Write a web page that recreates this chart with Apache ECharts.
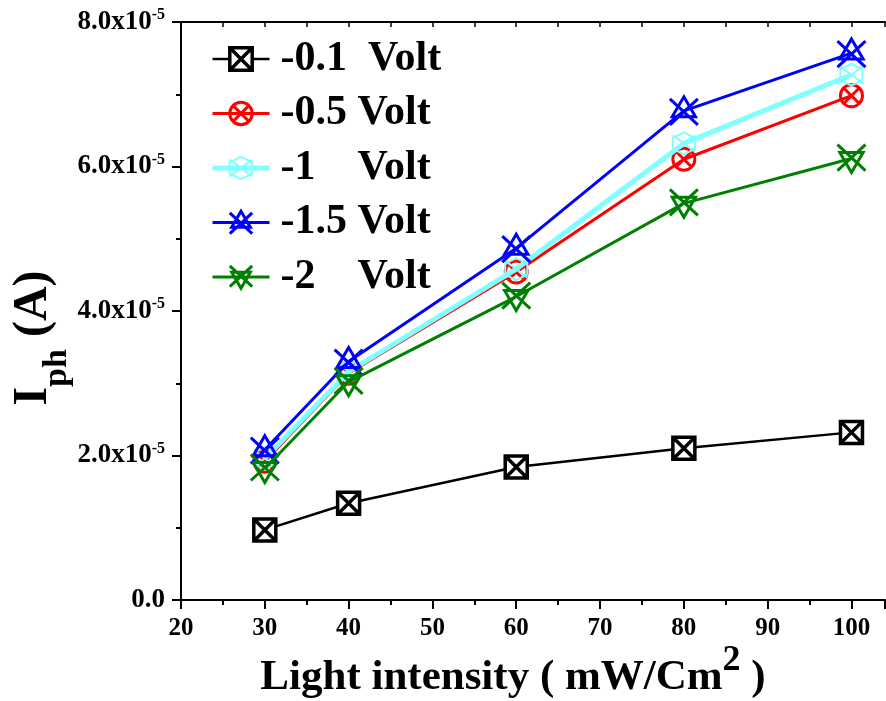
<!DOCTYPE html>
<html><head><meta charset="utf-8">
<script src="https://cdn.jsdelivr.net/npm/echarts@6/dist/echarts.min.js"></script>
<style>html,body{margin:0;padding:0;background:#fff}#c{width:886px;height:701px}</style>
</head><body><div id="c"></div>
<script>
// ---- data ----
const xValues = [30, 40, 60, 80, 100];
const seriesNames = ['-0.1  Volt', '-0.5 Volt', '-1    Volt', '-1.5 Volt', '-2    Volt'];
const iph_01 = [0.97e-5, 1.34e-5, 1.84e-5, 2.10e-5, 2.32e-5];
const iph_05 = [1.92e-5, 3.14e-5, 4.54e-5, 6.10e-5, 6.98e-5];
const iph_1  = [1.96e-5, 3.16e-5, 4.58e-5, 6.32e-5, 7.27e-5];
const iph_15 = [2.08e-5, 3.30e-5, 4.87e-5, 6.77e-5, 7.57e-5];
const iph_2  = [1.82e-5, 3.02e-5, 4.20e-5, 5.49e-5, 6.11e-5];
const xTickLabels = ['20','30','40','50','60','70','80','90','100'];
const yTickLabels = ['0.0','2.0x10{sup|-5}','4.0x10{sup|-5}','6.0x10{sup|-5}','8.0x10{sup|-5}'];

const seriesValues = [iph_01, iph_05, iph_1, iph_15, iph_2];
const colors = ['#000000', '#ff0000', '#80ffff', '#0000ff', '#008000'];
const lineWidths = [2.5, 3, 5, 3, 3];
const symbols = [
  'path://M1,1 L23,1 L23,23 L1,23 Z M1,1 L23,23 M23,1 L1,23',
  'path://M12,1 A11,11 0 1,1 11.99,1 Z M4,4 L20,20 M20,4 L4,20',
  'path://M12,0 L23,6 L23,18 L12,24 L1,18 L1,6 Z M1,3 L23,21 M23,3 L1,21',
  'path://M14,0 L24,20 L4,20 Z M2,2 L26,28 M26,2 L2,28',
  'path://M4,8 L24,8 L14,28 Z M2,0 L26,26 M26,0 L2,26'
];
const symbolSizes = [[22,22],[22,22],[22,22],[28,28],[28,28]];
const borderWidths = [3.5, 3, 2, 3, 3];

const font = '"Liberation Serif", "Times New Roman", serif';
const chart = echarts.init(document.getElementById('c'));

const fills = seriesNames.map((n, i) => i === 0 ? '#ffffff' : 'rgba(255,255,255,0)');

const series = seriesNames.map((name, i) => ({
  name: name,
  type: 'line',
  data: xValues.map((x, j) => [x, seriesValues[i][j]]),
  symbol: symbols[i],
  symbolSize: symbolSizes[i],
  showAllSymbol: true,
  lineStyle: { color: colors[i], width: lineWidths[i] },
  itemStyle: { color: fills[i], borderColor: colors[i], borderWidth: borderWidths[i] },
  emphasis: { disabled: true },
  z: 2 + i
}));

chart.setOption({
  animation: false,
  backgroundColor: '#ffffff',
  grid: { left: 181, right: 1, top: 22, bottom: 101, containLabel: false, outerBoundsMode: 'none' },
  legend: {
    orient: 'vertical',
    left: 205,
    top: 32,
    itemWidth: 57,
    itemHeight: 28,
    itemGap: 10.5,
    data: seriesNames.map((name, i) => ({
      name: name,
      itemStyle: { color: fills[i], borderColor: colors[i], borderWidth: borderWidths[i] },
      lineStyle: { color: colors[i], width: lineWidths[i] }
    })),
    textStyle: { fontFamily: font, fontWeight: 'bold', fontSize: 42, color: '#000', lineHeight: 44, padding: [0,0,0,6] }
  },
  xAxis: [{
    type: 'value', min: 20, max: 104, interval: 10, position: 'bottom',
    axisLine: { lineStyle: { color: '#000', width: 2 } },
    axisTick: { inside: false, length: 9, lineStyle: { color: '#000', width: 2 } },
    minorTick: { show: true, splitNumber: 2, length: 5, lineStyle: { color: '#000', width: 2 } },
    splitLine: { show: false },
    axisLabel: {
      margin: 16, color: '#000', fontFamily: font, fontWeight: 'bold', fontSize: 25,
      formatter: (v) => { const k = xTickLabels.indexOf(String(v)); return k >= 0 ? xTickLabels[k] : ''; },
      showMaxLabel: false
    },
    name: '{m|Light intensity ( mW/Cm}{sup|2}{m| )}',
    nameLocation: 'middle',
    nameGap: 43,
    nameMoveOverlap: false,
    nameTextStyle: {
      fontFamily: font, fontWeight: 'bold', fontSize: 43, color: '#000', lineHeight: 70,
      padding: [0, 40, 0, 0],
      rich: {
        m: { fontFamily: font, fontWeight: 'bold', fontSize: 43, color: '#000', lineHeight: 70 },
        sup: { fontFamily: font, fontWeight: 'bold', fontSize: 36, color: '#000', verticalAlign: 'top', lineHeight: 70 }
      }
    }
  }, {
    type: 'value', min: 20, max: 104, interval: 5, position: 'top',
    axisLine: { lineStyle: { color: '#000', width: 2 } },
    axisTick: { inside: true, length: 5, lineStyle: { color: '#000', width: 1.5 } },
    axisLabel: { show: false },
    splitLine: { show: false }
  }],
  yAxis: {
    type: 'value', min: 0, max: 8e-5, interval: 2e-5,
    axisLine: { show: true, lineStyle: { color: '#000', width: 2 } },
    axisTick: { show: true, inside: false, length: 9, lineStyle: { color: '#000', width: 2 } },
    minorTick: { show: true, splitNumber: 2, length: 5, lineStyle: { color: '#000', width: 2 } },
    splitLine: { show: false },
    axisLabel: {
      margin: 16, color: '#000', fontFamily: font, fontWeight: 'bold', fontSize: 27, lineHeight: 30,
      formatter: (v) => yTickLabels[Math.round(v / 2e-5)],
      rich: { sup: { fontFamily: font, fontWeight: 'bold', fontSize: 16, color: '#000', verticalAlign: 'top', lineHeight: 30 } }
    },
    name: '{m|I}{sub|ph}{m| (A)}',
    nameLocation: 'middle',
    nameGap: 107,
    nameMoveOverlap: false,
    nameTextStyle: {
      fontFamily: font, fontWeight: 'bold', fontSize: 48, color: '#000', lineHeight: 64,
      padding: [0, 54, 0, 0],
      rich: {
        m: { fontFamily: font, fontWeight: 'bold', fontSize: 48, color: '#000', verticalAlign: 'top', lineHeight: 64 },
        sub: { fontFamily: font, fontWeight: 'bold', fontSize: 34, color: '#000', verticalAlign: 'bottom', lineHeight: 64 }
      }
    }
  },
  series: series
});
</script></body></html>
